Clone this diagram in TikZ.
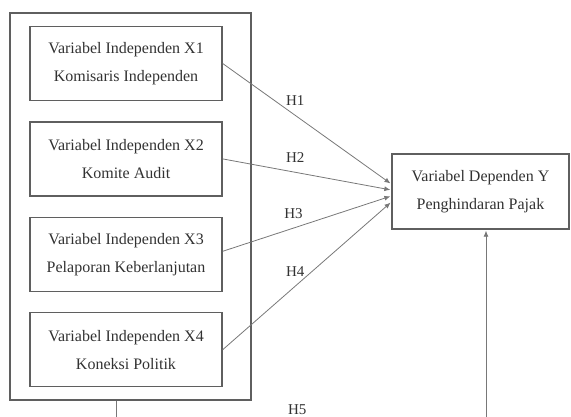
\documentclass[tikz,border=0pt]{standalone}
\usepackage{fontspec}
\setmainfont{Liberation Serif}
\definecolor{boxgray}{RGB}{95,95,95}
\definecolor{linegray}{RGB}{120,120,120}
\definecolor{textgray}{RGB}{50,50,50}
\usetikzlibrary{positioning, arrows.meta}

\begin{document}
\begin{tikzpicture}[x=1pt, y=1pt,
  varbox/.style={draw=boxgray, line width=1.4pt, minimum width=192pt, minimum height=74pt,
    align=center, text=textgray, font=\fontsize{16}{28}\selectfont, inner sep=0pt},
  groupbox/.style={draw=boxgray, line width=1.4pt, minimum width=241pt, minimum height=387pt, inner sep=0pt},
  link/.style={draw=linegray, line width=0.8pt, -{Latex[length=6pt,width=5pt]}, shorten >=1pt},
  hyp/.style={text=textgray, font=\fontsize{15}{15}\selectfont, inner sep=3pt},
  node distance=20pt,
]
  \useasboundingbox (0,0) rectangle (571,-416);
  % independent variables
  \node[groupbox] (grp) at (130.5,-206.5) {};
  \node[varbox] (x1) at (126,-63.5) {Variabel Independen X1\\Komisaris Independen};
  \node[varbox, below=of x1] (x2) {Variabel Independen X2\\Komite Audit};
  \node[varbox, below=of x2] (x3) {Variabel Independen X3\\Pelaporan Keberlanjutan};
  \node[varbox, below=of x3] (x4) {Variabel Independen X4\\Koneksi Politik};
  % dependent variable
  \node[varbox, minimum width=177pt, minimum height=75pt] (dep) at (480.5,-191.5) {Variabel Dependen Y\\Penghindaran Pajak};
  % hypotheses
  \draw[link] (x1.east) -- node[hyp, pos=.43, above=6pt] {H1} ([yshift=7.5pt]dep.west);
  \draw[link] (x2.east) -- node[hyp, pos=.43, above=6pt] {H2} ([yshift=1.5pt]dep.west);
  \draw[link] ([yshift=3pt]x3.east) -- node[hyp, pos=.42, above=6pt] {H3} ([yshift=-4.5pt]dep.west);
  \draw[link] (x4.east) -- node[hyp, pos=.43, above=6pt] {H4} ([yshift=-10.5pt]dep.west);
  \draw[link] ([xshift=-14.5pt]grp.south) -- ++(0,-17) -| node[hyp, pos=.245, above=0pt] {H5} ([xshift=5.5pt]dep.south);
\end{tikzpicture}
\end{document}
